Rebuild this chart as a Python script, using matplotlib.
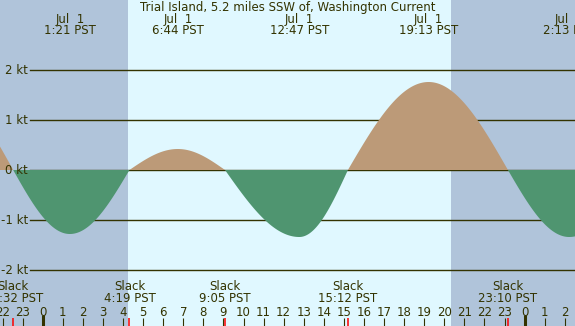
import numpy as np
import matplotlib
matplotlib.use("Agg")
import matplotlib.pyplot as plt

# events (hours from midnight Jul 1, knots)
ev_hours = [-4.6, -1.47, 1.35, 4.32, 6.73, 9.08, 12.78, 15.2, 19.22, 23.17, 26.22, 29.5]
ev_speed = [1.45, 0.0, -1.28, 0.0, 0.42, 0.0, -1.34, 0.0, 1.76, 0.0, -1.34, 0.0]

max_hours = [1.35, 6.73, 12.78, 19.22, 26.22]
max_labels = ["Jul  1\n1:21 PST", "Jul  1\n6:44 PST", "Jul  1\n12:47 PST",
              "Jul  1\n19:13 PST", "Jul  2\n2:13 PST"]
slack_hours = [-1.47, 4.32, 9.08, 15.2, 23.17]
slack_labels = ["Slack\n22:32 PST", "Slack\n4:19 PST", "Slack\n9:05 PST",
                "Slack\n15:12 PST", "Slack\n23:10 PST"]
sunrise, sunset = 4.25, 20.33
kt_levels = [2, 1, 0, -1, -2]

title = "Trial Island, 5.2 miles SSW of, Washington Current"
ink = "#333300"
day_col = "#e0f8ff"
night_col = "#b0c4da"
flood_col = "#bc9a78"
ebb_col = "#4f9570"

# smooth curve through the events: quarter sine between slack and max
t = np.linspace(ev_hours[0], ev_hours[-1], 4000)
v = np.zeros_like(t)
for i in range(len(ev_hours) - 1):
    t0, t1 = ev_hours[i], ev_hours[i + 1]
    v0, v1 = ev_speed[i], ev_speed[i + 1]
    m = (t >= t0) & (t <= t1)
    s = (t[m] - t0) / (t1 - t0)
    if v0 == 0:
        v[m] = v1 * np.sin(np.pi / 2 * s)
    else:
        v[m] = v0 * np.cos(np.pi / 2 * s)

px_per_h = 20.08
x0 = -42.7 / px_per_h
x1 = (575 - 42.7) / px_per_h
ytop, ybot = 170 / 50, -(326 - 170) / 50


def ypx(p):
    return (170 - p) / 50


fig = plt.figure(figsize=(5.75, 3.26), dpi=100)
ax = fig.add_axes([0, 0, 1, 1])
ax.set_xlim(x0, x1)
ax.set_ylim(ybot, ytop)
ax.axis("off")

ax.axvspan(x0, sunrise, color=night_col, lw=0)
ax.axvspan(sunrise, sunset, color=day_col, lw=0)
ax.axvspan(sunset, x1, color=night_col, lw=0)

fs = 8.5
xl = x0 + 30 / px_per_h
for k in kt_levels:
    ax.plot([xl, x1], [k, k], color=ink, lw=1.0, zorder=1)
    ax.text(x0 + 28 / px_per_h, k, f"{k} kt", ha="right", va="center",
            fontsize=fs, color=ink)

ax.fill_between(t, 0, v, where=v >= 0, color=flood_col, lw=0, interpolate=True, zorder=2)
ax.fill_between(t, 0, v, where=v <= 0, color=ebb_col, lw=0, interpolate=True, zorder=2)

ax.text((x0 + x1) / 2, ypx(7), title, ha="center", va="center", fontsize=fs, color=ink)
for h, lab in zip(max_hours, max_labels):
    a, b = lab.split("\n")
    ax.text(h, ypx(19), a, ha="center", va="center", fontsize=fs, color=ink)
    ax.text(h, ypx(31), b, ha="center", va="center", fontsize=fs, color=ink)
for h, lab in zip(slack_hours, slack_labels):
    a, b = lab.split("\n")
    ax.text(h, ypx(287), a, ha="center", va="center", fontsize=fs, color=ink)
    ax.text(h, ypx(299), b, ha="center", va="center", fontsize=fs, color=ink)

for h in range(-2, 27):
    ax.text(h, ypx(312), str(h % 24), ha="center", va="center", fontsize=fs, color=ink)
    if h % 24 == 0:
        ax.plot([h, h], [ypx(315), ybot], color=ink, lw=2.2, solid_capstyle="butt")
    else:
        ax.plot([h, h], [ypx(318), ybot], color=ink, lw=0.8, solid_capstyle="butt")
for h in slack_hours:
    ax.plot([h, h], [ypx(318), ybot], color="red", lw=1.1, solid_capstyle="butt")

fig.savefig("out.png", dpi=100)
